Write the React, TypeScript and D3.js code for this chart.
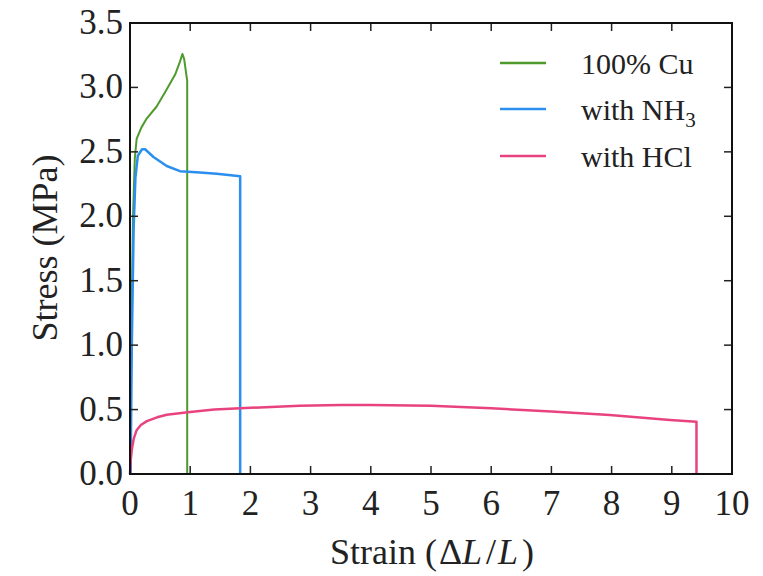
import React, { useEffect, useRef } from 'react';
import * as d3 from 'd3';

// strain (ΔL/L), stress (MPa)
const cuStrain = [0, 0.02, 0.05, 0.08, 0.11, 0.19, 0.28, 0.44, 0.58, 0.75, 0.83, 0.87, 0.9, 0.95, 0.95];
const cuStress = [0, 1.0, 2.0, 2.45, 2.6, 2.69, 2.76, 2.85, 2.96, 3.1, 3.2, 3.26, 3.22, 3.05, 0];

const nh3Strain = [0.01, 0.03, 0.06, 0.09, 0.13, 0.2, 0.25, 0.39, 0.61, 0.83, 1.16, 1.44, 1.83, 1.83];
const nh3Stress = [0, 1.0, 1.9, 2.3, 2.47, 2.52, 2.52, 2.46, 2.39, 2.35, 2.34, 2.33, 2.31, 0];

const hclStrain = [0, 0.01, 0.03, 0.06, 0.11, 0.18, 0.28, 0.45, 0.61, 0.96, 1.4, 1.83, 2.82, 3.5, 4, 5, 6, 7, 7.97, 8.97, 9.41, 9.41];
const hclStress = [0, 0.1, 0.19, 0.27, 0.34, 0.38, 0.41, 0.44, 0.46, 0.48, 0.5, 0.51, 0.53, 0.535, 0.535, 0.53, 0.51, 0.485, 0.457, 0.42, 0.405, 0];

const xTicks = [0, 1, 2, 3, 4, 5, 6, 7, 8, 9, 10];
const yTicks = [0, 0.5, 1.0, 1.5, 2.0, 2.5, 3.0, 3.5];

const series = [
  { name: '100% Cu', x: cuStrain, y: cuStress, color: '#4f9a2c', width: 2 },
  { name: 'with NH3', x: nh3Strain, y: nh3Stress, color: '#2b8ff0', width: 2.5 },
  { name: 'with HCl', x: hclStrain, y: hclStress, color: '#e8437f', width: 2.5 },
];

const App = () => {
  const svgRef = useRef(null);

  useEffect(() => {
    const margin = { top: 23, right: 31, bottom: 102, left: 130 };
    const W = 763;
    const H = 576;
    const width = W - margin.left - margin.right;
    const height = H - margin.top - margin.bottom;

    const svg = d3.select(svgRef.current);
    svg.selectAll('*').remove();

    const font = '"Liberation Serif", "Times New Roman", serif';

    const x = d3.scaleLinear().domain([0, 10]).range([0, width]);
    const y = d3.scaleLinear().domain([0, 3.5]).range([height, 0]);

    const g = svg.append('g').attr('transform', `translate(${margin.left},${margin.top})`);

    const line = d3
      .line()
      .x((d) => x(d[0]))
      .y((d) => y(d[1]));

    series.forEach((s) => {
      const pts = s.x.map((v, i) => [v, s.y[i]]);
      g.append('path')
        .datum(pts)
        .attr('fill', 'none')
        .attr('stroke', s.color)
        .attr('stroke-width', s.width)
        .attr('stroke-linejoin', 'round')
        .attr('d', line);
    });

    // ticks inward on all four sides
    const tickLen = 8;
    const ticks = g.append('g').attr('stroke', '#222').attr('stroke-width', 1.5);
    xTicks.forEach((t) => {
      ticks.append('line').attr('x1', x(t)).attr('x2', x(t)).attr('y1', height).attr('y2', height - tickLen);
      ticks.append('line').attr('x1', x(t)).attr('x2', x(t)).attr('y1', 0).attr('y2', tickLen);
    });
    yTicks.forEach((t) => {
      ticks.append('line').attr('x1', 0).attr('x2', tickLen).attr('y1', y(t)).attr('y2', y(t));
      ticks.append('line').attr('x1', width).attr('x2', width - tickLen).attr('y1', y(t)).attr('y2', y(t));
    });

    g.append('rect')
      .attr('width', width)
      .attr('height', height)
      .attr('fill', 'none')
      .attr('stroke', '#111')
      .attr('stroke-width', 2);

    // tick labels
    g.selectAll('.xl')
      .data(xTicks)
      .enter()
      .append('text')
      .attr('x', (d) => x(d))
      .attr('y', height + 41)
      .attr('text-anchor', 'middle')
      .attr('font-family', font)
      .attr('font-size', 35)
      .attr('fill', '#222')
      .text((d) => d);

    g.selectAll('.yl')
      .data(yTicks)
      .enter()
      .append('text')
      .attr('x', -7)
      .attr('y', (d) => y(d) + 11)
      .attr('text-anchor', 'end')
      .attr('font-family', font)
      .attr('font-size', 35)
      .attr('fill', '#222')
      .text((d) => d.toFixed(1));

    // axis labels
    const xl = svg
      .append('text')
      .attr('x', 432)
      .attr('y', 564)
      .attr('text-anchor', 'middle')
      .attr('font-family', font)
      .attr('font-size', 36)
      .attr('fill', '#222');
    xl.append('tspan').text('Strain (');
    xl.append('tspan').attr('dx', 2).text('Δ');
    xl.append('tspan').attr('font-style', 'italic').text('L');
    xl.append('tspan').attr('dx', 4).text('/');
    xl.append('tspan').attr('dx', 2).attr('font-style', 'italic').text('L');
    xl.append('tspan').attr('dx', 4).text(')');

    svg
      .append('text')
      .attr('transform', `translate(57,248) rotate(-90)`)
      .attr('text-anchor', 'middle')
      .attr('font-family', font)
      .attr('font-size', 36)
      .attr('fill', '#222')
      .text('Stress (MPa)');

    // legend
    const legY = [63, 109, 156];
    series.forEach((s, i) => {
      svg.append('line')
        .attr('x1', 500)
        .attr('x2', 546)
        .attr('y1', legY[i])
        .attr('y2', legY[i])
        .attr('stroke', s.color)
        .attr('stroke-width', 2.5);
      const t = svg
        .append('text')
        .attr('x', 581)
        .attr('y', legY[i] + 11)
        .attr('font-family', font)
        .attr('font-size', 30)
        .attr('fill', '#222');
      if (s.name === 'with NH3') {
        t.append('tspan').text('with NH');
        t.append('tspan').attr('font-size', 21).attr('dy', 7).text('3');
      } else {
        t.text(s.name);
      }
    });
  }, []);

  return (
    <svg
      ref={svgRef}
      width={763}
      height={576}
      style={{ position: 'absolute', left: 0, top: 0, background: '#fff' }}
    ></svg>
  );
};

export default App;
